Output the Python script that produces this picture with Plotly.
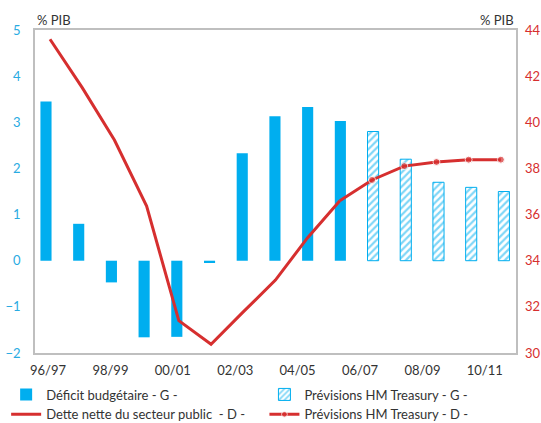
import plotly.graph_objects as go

# Fiscal years
years = ["96/97", "97/98", "98/99", "99/00", "00/01", "01/02", "02/03", "03/04",
         "04/05", "05/06", "06/07", "07/08", "08/09", "09/10", "10/11"]

# Budget deficit (% GDP, left axis): outturns then HM Treasury forecasts
deficit_years = years[:10]
deficit = [3.45, 0.8, -0.47, -1.66, -1.65, -0.05, 2.33, 3.13, 3.33, 3.03]
forecast_years = years[10:]
deficit_forecast = [2.8, 2.2, 1.7, 1.59, 1.5]

# Public sector net debt (% GDP, right axis)
debt_years = years[:10]
debt = [43.6, 41.5, 39.23, 36.37, 31.4, 30.38, 31.78, 33.16, 35.0, 36.6]
debt_fc_years = years[9:]
debt_forecast = [36.6, 37.5, 38.1, 38.28, 38.38, 38.38]

tick_years = years[::2]

CYAN = "#00AEEF"
RED = "#D62F2F"
FONT = "Lato, 'Open Sans', sans-serif"
TEXT = "#333333"

fig = go.Figure()

fig.add_trace(go.Bar(
    x=deficit_years, y=deficit, name="Déficit budgétaire - G -",
    marker=dict(color=CYAN, line=dict(width=0)), width=0.34,
    legend="legend",
))
fig.add_trace(go.Scatter(
    x=debt_years, y=debt, name="Dette nette du secteur public  - D -",
    mode="lines", line=dict(color=RED, width=3),
    xaxis="x3", yaxis="y2", legend="legend",
))
fig.add_trace(go.Bar(
    x=forecast_years, y=deficit_forecast, name="Prévisions HM Treasury - G -",
    marker=dict(color="white", line=dict(color=CYAN, width=1),
                pattern=dict(shape="/", fgcolor=CYAN, bgcolor="white",
                             size=5, solidity=0.45)),
    width=0.34, legend="legend2",
))
fig.add_trace(go.Scatter(
    x=debt_fc_years, y=debt_forecast, name="Prévisions HM Treasury - D -",
    mode="lines+markers", line=dict(color=RED, width=3),
    marker=dict(color=RED, size=[0, 7, 7, 7, 7, 7]),
    xaxis="x3", yaxis="y2", legend="legend2",
))
# Carrier for the category labels along the bottom axis
fig.add_trace(go.Scatter(
    x=years, y=[None] * len(years), xaxis="x2", yaxis="y",
    showlegend=False, hoverinfo="skip", mode="lines",
))

legend_common = dict(
    orientation="v", yanchor="top", xanchor="left", itemwidth=30,
    font=dict(size=13, color=TEXT, family=FONT), tracegroupgap=0,
    traceorder="normal", bgcolor="rgba(0,0,0,0)",
)

fig.update_layout(
    width=541, height=423,
    margin=dict(l=35, r=25, t=30, b=70, autoexpand=False),
    paper_bgcolor="white", plot_bgcolor="white",
    font=dict(family=FONT, size=13, color=TEXT),
    barmode="overlay",
    showlegend=True,
    legend=dict(x=-0.06, y=-0.082, **legend_common),
    legend2=dict(x=0.477, y=-0.082, **legend_common),
    xaxis=dict(
        type="category", categoryorder="array", categoryarray=years,
        range=[-0.336, 14.37], showticklabels=False, ticks="",
        showgrid=False, zeroline=False,
        showline=True, linecolor="#BFBFBF", linewidth=1.5, mirror=True,
    ),
    xaxis2=dict(
        type="category", categoryorder="array", categoryarray=years,
        overlaying="x", anchor="y", side="bottom",
        range=[-0.417, 15.0], tickmode="array", tickvals=tick_years,
        ticktext=tick_years, ticks="", showgrid=False, zeroline=False,
        showline=False, ticklabelstandoff=8,
        tickfont=dict(size=13, color=TEXT),
    ),
    xaxis3=dict(
        type="category", categoryorder="array", categoryarray=years,
        overlaying="x", anchor="y2", range=[-0.466, 14.47],
        visible=False,
    ),
    yaxis=dict(
        range=[-2, 5], dtick=1, showgrid=False, zeroline=False,
        tickfont=dict(size=13, color="#29ABE2"), ticks="",
        ticklabelstandoff=10,
        showline=True, linecolor="#BFBFBF", linewidth=1.5, mirror=True,
    ),
    yaxis2=dict(
        range=[30, 44], dtick=2, overlaying="y", side="right",
        showgrid=False, zeroline=False, ticks="", ticklabelstandoff=8,
        tickfont=dict(size=13, color=RED), showline=False,
    ),
    annotations=[
        dict(text="% PIB", xref="paper", yref="paper", x=0.0, y=1.0,
             xanchor="left", yanchor="bottom", showarrow=False,
             font=dict(size=13, color=TEXT)),
        dict(text="% PIB", xref="paper", yref="paper", x=1.0, y=1.0,
             xanchor="right", yanchor="bottom", showarrow=False,
             font=dict(size=13, color=TEXT)),
    ],
)

fig.write_html("out.html")
